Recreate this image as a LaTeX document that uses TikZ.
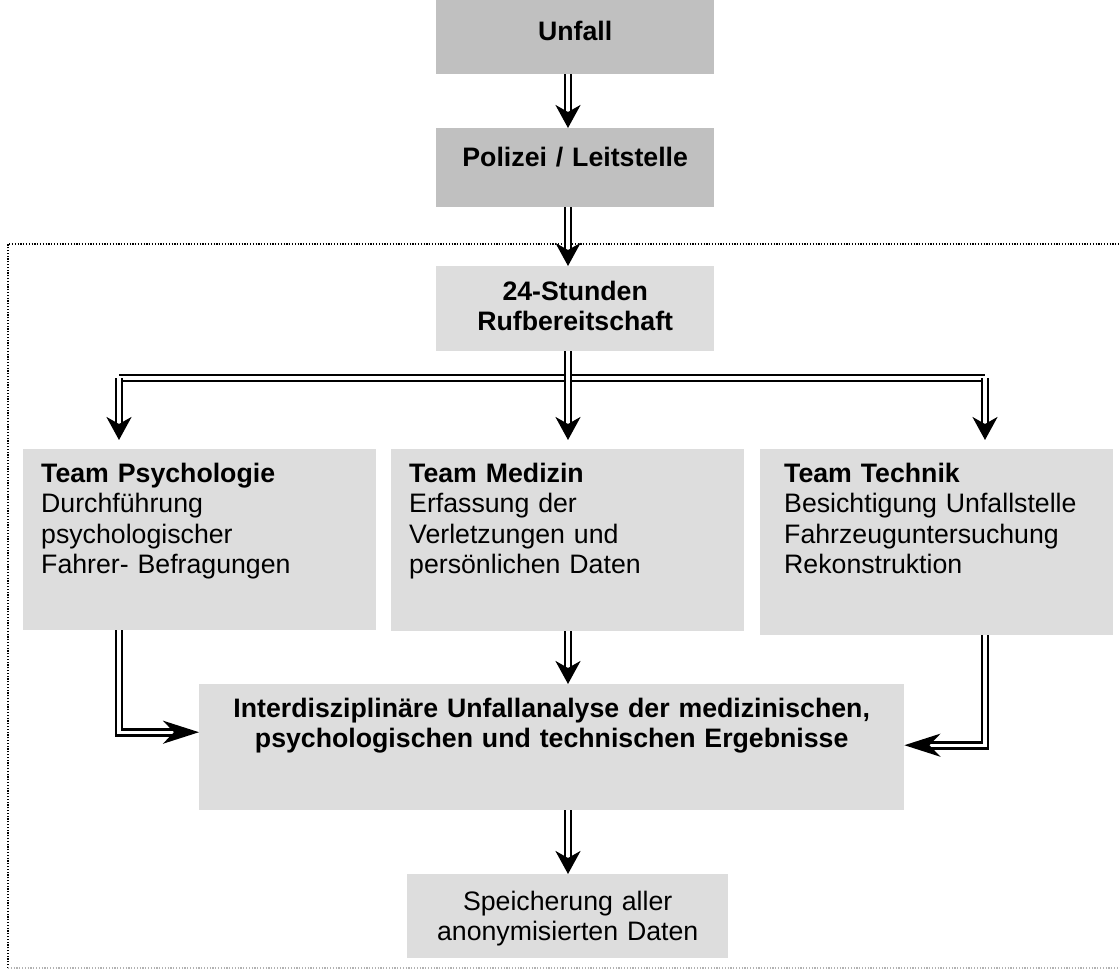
\documentclass[tikz,border=0pt]{standalone}
\usepackage{fontspec}
\setmainfont{Liberation Sans}
\usetikzlibrary{arrows.meta, positioning, calc}
\definecolor{boxdark}{RGB}{192, 192, 192}
\definecolor{boxlight}{RGB}{221, 221, 221}

\begin{document}
\begin{tikzpicture}[x=1pt, y=-1pt,
  gbox/.style={anchor=north west, inner ysep=0pt, inner xsep=0pt, align=center, font=\fontsize{26.7}{30.5}\selectfont},
  teambox/.style={gbox, fill=boxlight, align=left, inner xsep=18pt, text width=317pt, text height=33pt},
  dbl/.style={double, double distance=3.4pt, line width=2.6pt},
  darrow/.style={dbl, -{Stealth[length=23pt, width=25pt, inset=7pt]}},
  harrow/.style={dbl, -{Stealth[length=36pt, width=23pt, inset=11pt]}},
  frame/.style={line width=1.2pt, dash pattern=on 1.2pt off 1.6pt}
]
  \useasboundingbox (0,0) rectangle (1120,970);

  \draw[frame] (8,968) -- (8,244) -- (1125,244);
  \draw[frame, gray!60] (8,968) -- (1125,968);

  \node[gbox, fill=boxdark, text width=278pt, text height=40pt, text depth=34pt] (unfall) at (436,0) {\textbf{Unfall}};
  \node[gbox, fill=boxdark, text width=278pt, text height=38pt, text depth=41pt] (polizei) at (436,128) {\textbf{Polizei / Leitstelle}};
  \node[gbox, fill=boxlight, text width=278pt, text height=34pt, text depth=51pt] (ruf) at (436,266) {\textbf{24-Stunden}\\ \textbf{Rufbereitschaft}};

  \node[teambox, text depth=148pt] (psych) at (23,449) {\textbf{Team Psychologie}\\ Durchführung\\ psychologischer\\ Fahrer- Befragungen};
  \node[teambox, text depth=149pt] (medizin) at (391,449) {\textbf{Team Medizin}\\ Erfassung der\\ Verletzungen und\\ persönlichen Daten};
  \node[teambox, inner xsep=24pt, text width=305pt, text depth=153pt] (technik) at (760,449) {\textbf{Team Technik}\\ Besichtigung Unfallstelle\\ Fahrzeuguntersuchung\\ Rekonstruktion};

  \node[gbox, fill=boxlight, text width=705pt, text height=33pt, text depth=93pt] (interd) at (199,684) {\textbf{Interdisziplinäre Unfallanalyse der medizinischen,}\\ \textbf{psychologischen und technischen Ergebnisse}};
  \node[gbox, fill=boxlight, text width=321pt, text height=36pt, text depth=48pt] (speicher) at (407,874) {Speicherung aller\\ anonymisierten Daten};

  \coordinate (axis) at (568,0);
  \coordinate (busL) at (119,378);
  \coordinate (busR) at (985,378);

  \draw[darrow] (axis |- unfall.south) -- (axis |- polizei.north);
  \draw[darrow] (axis |- polizei.south) -- (axis |- ruf.north);
  \draw[dbl] (busL) -- (busR);
  \draw[darrow, shorten >=9pt] (busL) -- (busL |- psych.north);
  \draw[darrow, shorten >=9pt] (axis |- ruf.south) -- (axis |- medizin.north);
  \draw[darrow, shorten >=9pt] (busR) -- (busR |- technik.north);
  \draw[harrow] (busL |- psych.south) |- ($(interd.west)+(0,-15)$);
  \draw[harrow] (busR |- technik.south) |- ($(interd.east)+(0,-2)$);
  \draw[darrow] (axis |- medizin.south) -- (axis |- interd.north);
  \draw[darrow] (axis |- interd.south) -- (axis |- speicher.north);
\end{tikzpicture}
\end{document}
